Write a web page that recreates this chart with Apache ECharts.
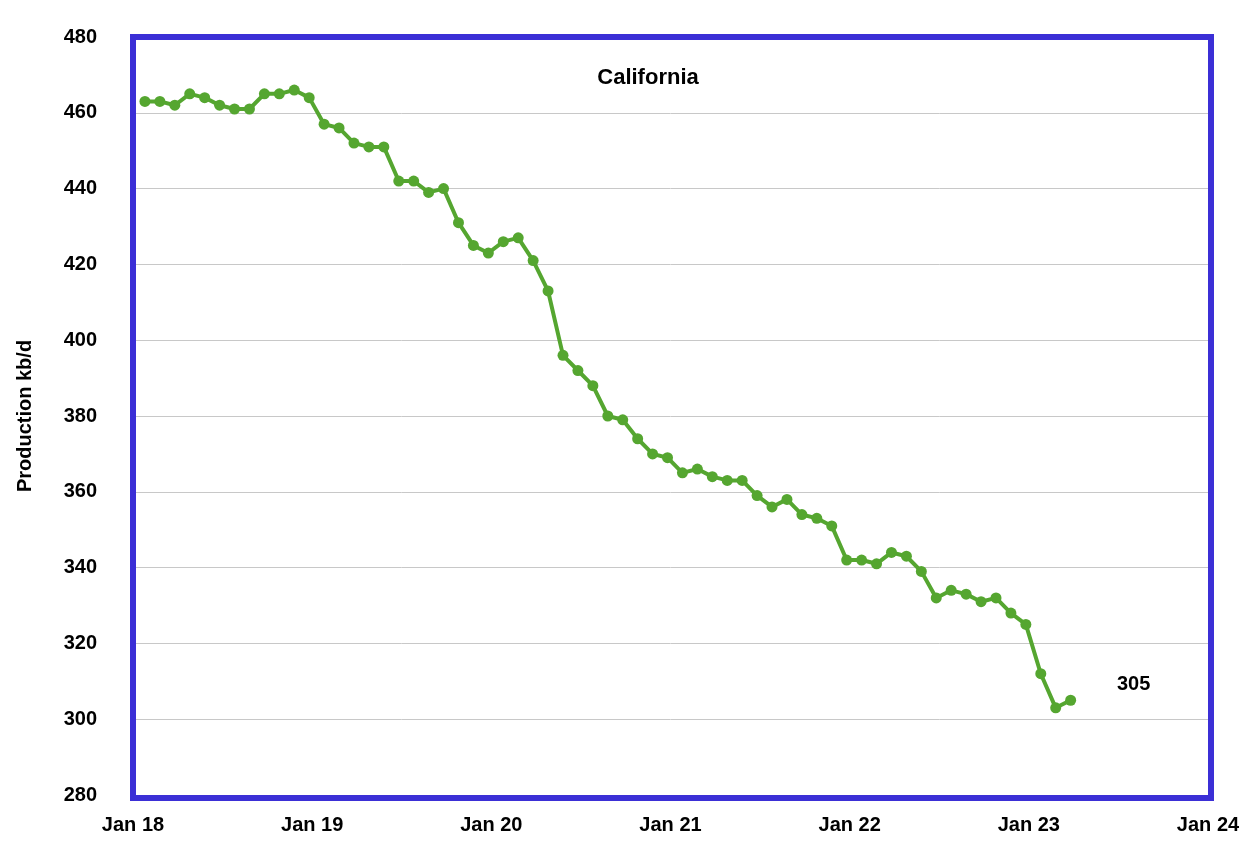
<!DOCTYPE html>
<html><head><meta charset="utf-8">
<script src="https://cdn.jsdelivr.net/npm/echarts@6/dist/echarts.min.js"></script>
<style>html,body{margin:0;padding:0;background:#fff}#c{width:1258px;height:866px}</style>
</head><body><div id="c"></div>
<script>
const tickLabels = ['Jan 18','Jan 19','Jan 20','Jan 21','Jan 22','Jan 23','Jan 24'];
const production = [
463,463,462,465,464,462,461,461,465,465,466,464,
457,456,452,451,451,442,442,439,440,431,425,423,
426,427,421,413,396,392,388,380,379,374,370,369,
365,366,364,363,363,359,356,358,354,353,351,342,
342,341,344,343,339,332,334,333,331,332,328,325,
312,303,305];
const lastLabel = '305';
const monthOffset = 0.8;
const data = production.map((v,i)=>[i+monthOffset,v]);
const chart = echarts.init(document.getElementById('c'));
chart.setOption({
  animation:false,
  grid:{left:133,right:50,top:37,bottom:71},
  graphic:[{type:'rect',left:130,top:34,z:100,shape:{width:1078,height:761},
    style:{fill:'none',stroke:'#3b2fd6',lineWidth:6}}],
  title:{text:'California',left:643,top:62,textAlign:'center',textStyle:{fontFamily:'Liberation Sans, Arial',fontWeight:'bold',fontSize:22,color:'#000'}},
  xAxis:{type:'value',min:0,max:72,interval:12,splitLine:{show:false},axisLine:{show:false},axisTick:{show:false},
    axisLabel:{margin:20,fontFamily:'Liberation Sans, Arial',fontWeight:'bold',fontSize:20,color:'#000',formatter:v=>tickLabels[v/12]}},
  yAxis:{type:'value',min:280,max:480,interval:20,name:'Production kb/d',nameLocation:'middle',nameGap:98,
    nameTextStyle:{fontFamily:'Liberation Sans, Arial',fontWeight:'bold',fontSize:20,color:'#000'},
    axisLine:{show:false},axisTick:{show:false},
    axisLabel:{margin:36,fontFamily:'Liberation Sans, Arial',fontWeight:'bold',fontSize:20,color:'#000'},
    splitLine:{lineStyle:{color:'#c8c8c8',width:1}}},
  series:[{type:'line',data:data,symbol:'circle',symbolSize:11,
    lineStyle:{color:'#55a630',width:4},itemStyle:{color:'#55a630'},
    markPoint:{symbol:'circle',symbolSize:0,data:[{coord:[data[data.length-1][0],production[production.length-1]],
      label:{show:true,formatter:lastLabel,offset:[63,-16],fontFamily:'Liberation Sans, Arial',fontWeight:'bold',fontSize:20,color:'#000'}}]}}]
});
</script></body></html>
